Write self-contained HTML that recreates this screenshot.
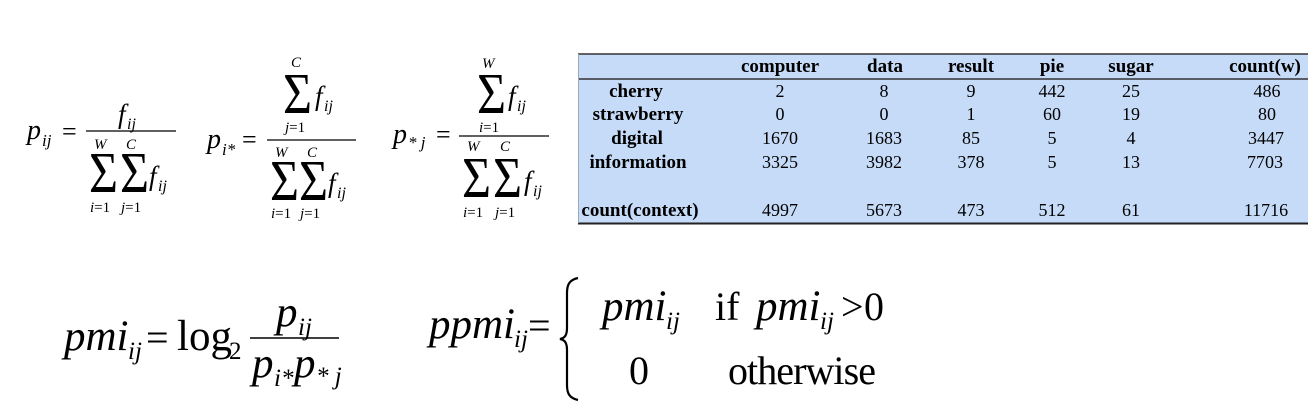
<!DOCTYPE html>
<html><head><meta charset="utf-8"><style>
html,body{margin:0;padding:0;background:#fff;}
svg{display:block;}
text{font-family:"Liberation Serif","DejaVu Serif",serif;fill:#000;}
.i{font-style:italic;}
.t{font-size:18px;text-anchor:middle;}
.h{font-size:19px;font-weight:bold;text-anchor:middle;}
</style></head><body>
<svg width="1314" height="415" viewBox="0 0 1314 415" xmlns="http://www.w3.org/2000/svg">
<!-- p_ij -->
<text class="i" x="27" y="139" font-size="28">p</text>
<text class="i" x="42" y="146" font-size="17">ij</text>
<text x="62" y="140" font-size="26">=</text>
<line x1="86" y1="131" x2="176" y2="131" stroke="#000" stroke-width="1.3"/>
<text class="i" x="118" y="123" font-size="27">f</text><text class="i" x="127" y="129" font-size="16">ij</text>
<text class="i" x="94" y="149" font-size="15">W</text>
<text class="i" x="126" y="149" font-size="15">C</text>
<text x="0" y="0" font-size="58" transform="translate(89,192) scale(0.86,1)">Σ</text>
<text x="0" y="0" font-size="58" transform="translate(120,192) scale(0.86,1)">Σ</text>
<text class="i" x="149" y="185" font-size="27">f</text><text class="i" x="158" y="191" font-size="16">ij</text>
<text x="90" y="212" font-size="15"><tspan class="i">i</tspan>=1</text>
<text x="121" y="212" font-size="15"><tspan class="i">j</tspan>=1</text>

<!-- p_i* -->
<text class="i" x="207" y="148" font-size="28">p</text>
<text class="i" x="222" y="155" font-size="17">i*</text>
<text x="242" y="148" font-size="26">=</text>
<line x1="267" y1="140" x2="356" y2="140" stroke="#000" stroke-width="1.3"/>
<text class="i" x="291" y="67" font-size="15">C</text>
<text x="0" y="0" font-size="58" transform="translate(283,113) scale(0.86,1)">Σ</text>
<text class="i" x="315" y="105" font-size="27">f</text><text class="i" x="324" y="111" font-size="16">ij</text>
<text x="285" y="132" font-size="15"><tspan class="i">j</tspan>=1</text>
<text class="i" x="275" y="157" font-size="15">W</text>
<text class="i" x="307" y="157" font-size="15">C</text>
<text x="0" y="0" font-size="58" transform="translate(270,200) scale(0.86,1)">Σ</text>
<text x="0" y="0" font-size="58" transform="translate(299,200) scale(0.86,1)">Σ</text>
<text class="i" x="328" y="192" font-size="27">f</text><text class="i" x="337" y="198" font-size="16">ij</text>
<text x="271" y="218" font-size="15"><tspan class="i">i</tspan>=1</text>
<text x="300" y="218" font-size="15"><tspan class="i">j</tspan>=1</text>

<!-- p_*j -->
<text class="i" x="393" y="143" font-size="28">p</text>
<text class="i" x="408" y="148" font-size="17">* j</text>
<text x="436" y="143" font-size="26">=</text>
<line x1="459" y1="136" x2="549" y2="136" stroke="#000" stroke-width="1.3"/>
<text class="i" x="482" y="68" font-size="15">W</text>
<text x="0" y="0" font-size="58" transform="translate(477,113) scale(0.86,1)">Σ</text>
<text class="i" x="508" y="105" font-size="27">f</text><text class="i" x="517" y="111" font-size="16">ij</text>
<text x="479" y="132" font-size="15"><tspan class="i">i</tspan>=1</text>
<text class="i" x="467" y="151" font-size="15">W</text>
<text class="i" x="500" y="151" font-size="15">C</text>
<text x="0" y="0" font-size="58" transform="translate(462,197) scale(0.86,1)">Σ</text>
<text x="0" y="0" font-size="58" transform="translate(493,197) scale(0.86,1)">Σ</text>
<text class="i" x="524" y="190" font-size="27">f</text><text class="i" x="533" y="196" font-size="16">ij</text>
<text x="463" y="217" font-size="15"><tspan class="i">i</tspan>=1</text>
<text x="495" y="217" font-size="15"><tspan class="i">j</tspan>=1</text>

<!-- table -->
<rect x="578" y="54" width="730" height="169" fill="#c6dbf7"/>
<line x1="578" y1="54" x2="1308" y2="54" stroke="#333" stroke-width="1.5"/>
<line x1="578" y1="79" x2="1308" y2="79" stroke="#333" stroke-width="1.5"/>
<line x1="578" y1="223.5" x2="1308" y2="223.5" stroke="#222" stroke-width="2"/>
<line x1="578.5" y1="54" x2="578.5" y2="223" stroke="#9ab" stroke-width="1"/>
<g class="h">
<text class="h" x="780" y="72">computer</text>
<text class="h" x="885" y="72">data</text>
<text class="h" x="971" y="72">result</text>
<text class="h" x="1052" y="72">pie</text>
<text class="h" x="1131" y="72">sugar</text>
<text class="h" x="1265" y="72">count(w)</text>
<text class="h" x="636" y="97">cherry</text>
<text class="h" x="638" y="120">strawberry</text>
<text class="h" x="637" y="144">digital</text>
<text class="h" x="638" y="168">information</text>
<text class="h" x="640" y="216">count(context)</text>
</g>
<g>
<text class="t" x="780" y="97">2</text><text class="t" x="884" y="97">8</text><text class="t" x="971" y="97">9</text><text class="t" x="1052" y="97">442</text><text class="t" x="1131" y="97">25</text><text class="t" x="1267" y="97">486</text>
<text class="t" x="780" y="120">0</text><text class="t" x="884" y="120">0</text><text class="t" x="971" y="120">1</text><text class="t" x="1052" y="120">60</text><text class="t" x="1131" y="120">19</text><text class="t" x="1267" y="120">80</text>
<text class="t" x="780" y="144">1670</text><text class="t" x="884" y="144">1683</text><text class="t" x="971" y="144">85</text><text class="t" x="1052" y="144">5</text><text class="t" x="1131" y="144">4</text><text class="t" x="1266" y="144">3447</text>
<text class="t" x="780" y="168">3325</text><text class="t" x="884" y="168">3982</text><text class="t" x="971" y="168">378</text><text class="t" x="1052" y="168">5</text><text class="t" x="1131" y="168">13</text><text class="t" x="1265" y="168">7703</text>
<text class="t" x="780" y="216">4997</text><text class="t" x="884" y="216">5673</text><text class="t" x="971" y="216">473</text><text class="t" x="1052" y="216">512</text><text class="t" x="1131" y="216">61</text><text class="t" x="1266" y="216">11716</text>
</g>

<!-- pmi -->
<text class="i" x="64" y="350" font-size="43">pmi</text>
<text class="i" x="128" y="359" font-size="25">ij</text>
<text x="146" y="351" font-size="40">=</text>
<text x="177" y="350" font-size="43">log</text>
<text x="229" y="359" font-size="25">2</text>
<line x1="250" y1="338" x2="339" y2="338" stroke="#000" stroke-width="1.5"/>
<text class="i" x="276" y="326" font-size="43">p</text><text class="i" x="298" y="335" font-size="25">ij</text>
<text class="i" x="252" y="377" font-size="43">p</text><text class="i" x="274" y="386" font-size="25">i*</text>
<text class="i" x="294" y="377" font-size="43">p</text><text class="i" x="316" y="384" font-size="25">* j</text>

<!-- ppmi -->
<text class="i" x="429" y="338" font-size="43">ppmi</text>
<text class="i" x="514" y="347" font-size="25">ij</text>
<text x="528" y="339" font-size="40">=</text>
<path d="M578,278 C569,280 567,285 567,293 L567,328 C567,335 565,338 560,339 C565,340 567,343 567,350 L567,385 C567,393 569,398 578,400" fill="none" stroke="#000" stroke-width="2.2"/>
<text class="i" x="602" y="320" font-size="43">pmi</text>
<text class="i" x="666" y="329" font-size="25">ij</text>
<text x="715" y="320" font-size="40">if</text>
<text class="i" x="756" y="320" font-size="43">pmi</text>
<text class="i" x="820" y="329" font-size="25">ij</text>
<text x="841" y="320" font-size="40">&gt;</text>
<text x="864" y="320" font-size="40">0</text>
<text x="629" y="384" font-size="40">0</text>
<text x="728" y="384" font-size="40" textLength="148">otherwise</text>
</svg>
</body></html>
